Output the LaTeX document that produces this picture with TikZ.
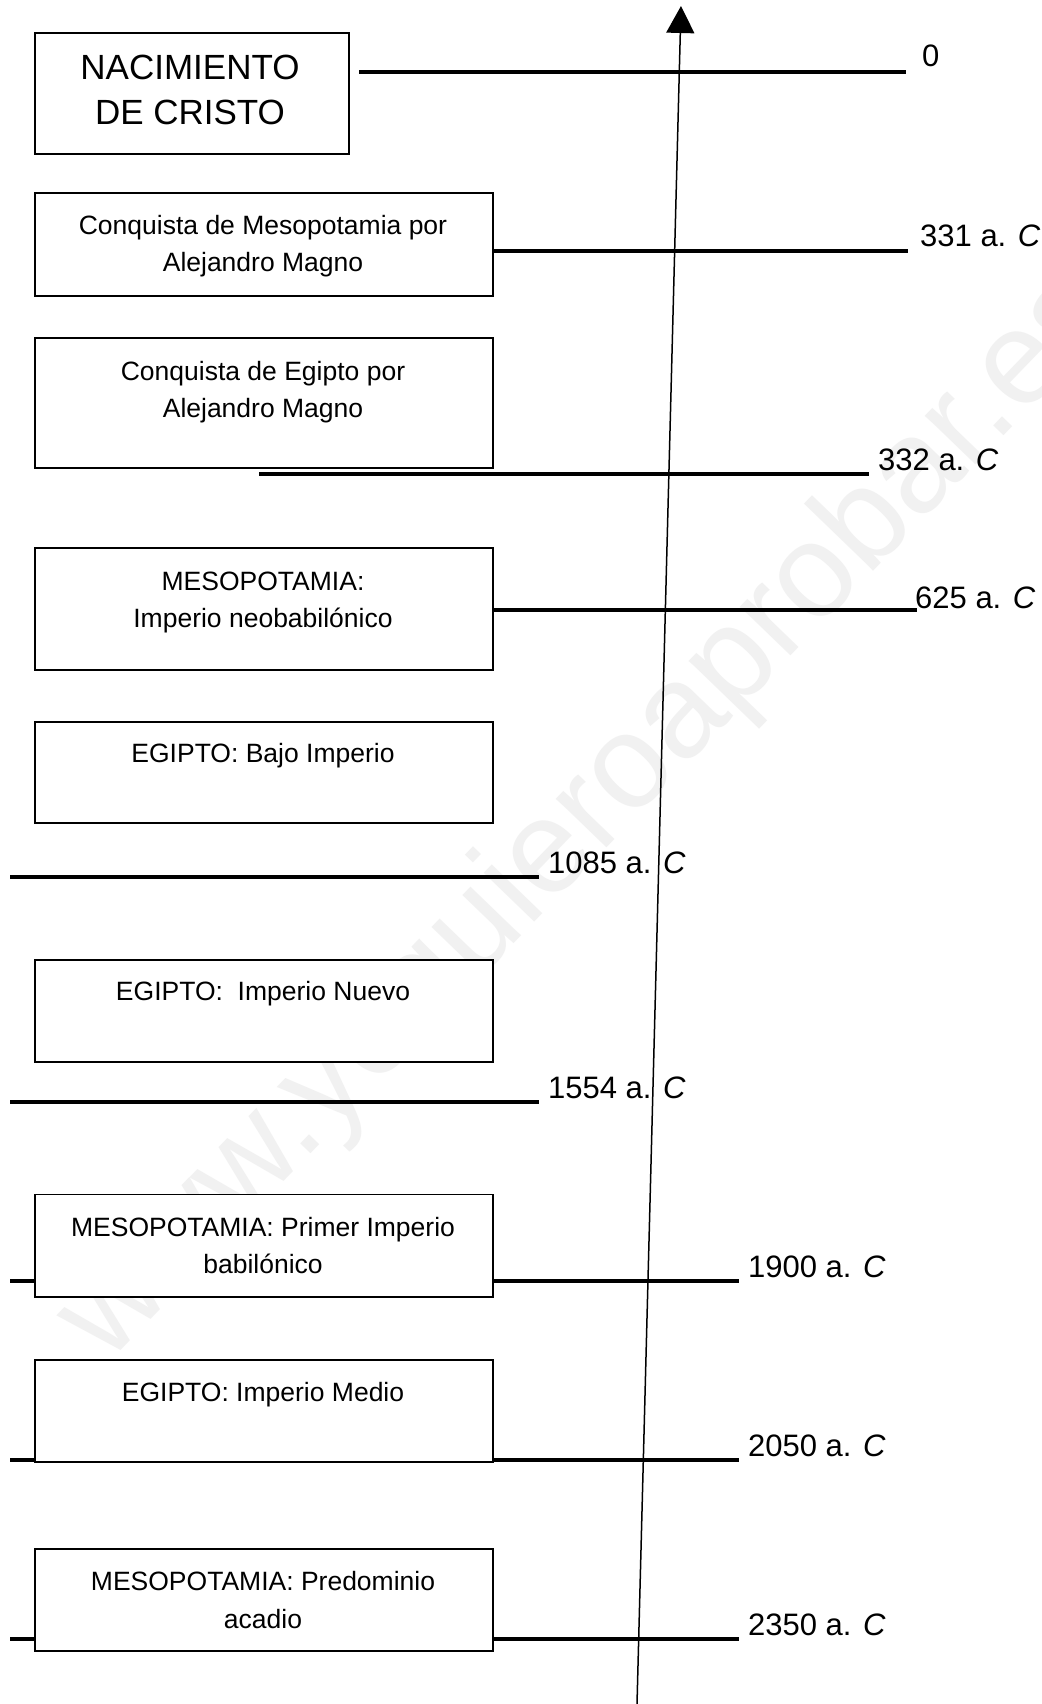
\documentclass[tikz,border=0pt]{standalone}
\usepackage{fontspec}
\setmainfont{Liberation Sans}
\usetikzlibrary{arrows.meta}
\definecolor{wmgray}{RGB}{241,241,241}
\begin{document}
\begin{tikzpicture}[x=1pt,y=-1pt,
  evbox/.style={draw=black, line width=1.3pt, fill=white, inner sep=0pt, outer sep=0pt, minimum width=458pt},
  boxtxt/.style={anchor=base, inner sep=0pt, font=\fontsize{26.5}{32}\selectfont},
  bigtxt/.style={anchor=base, inner sep=0pt, font=\fontsize{35}{40}\selectfont},
  datetxt/.style={anchor=base west, inner sep=0pt, font=\fontsize{31}{36}\selectfont},
  dateline/.style={line width=3.2pt},
  axisarrow/.style={line width=1.5pt, -{Triangle[width=28pt,length=27pt]}},
  wmark/.style={anchor=base, rotate=46, text=wmgray, inner sep=0pt, font=\fontsize{133}{140}\selectfont}]
\useasboundingbox (0,0) rectangle (1041,1704);
\fill[white] (0,0) rectangle (1041,1704);
% watermark
\node[wmark] (wm) at (613,841) {www.yoquieroaprobar.es};
% axis
\coordinate (axb) at (637,1704);
\coordinate (axt) at (681,6);
\draw[axisarrow] (axb) -- (axt);
% date lines
\coordinate (l0a) at (359,72);   \coordinate (l0b) at (906,72);
\coordinate (l1a) at (493,251);  \coordinate (l1b) at (908,251);
\coordinate (l2a) at (259,474);  \coordinate (l2b) at (869,474);
\coordinate (l3a) at (493,610);  \coordinate (l3b) at (917,610);
\coordinate (l4a) at (10,877);   \coordinate (l4b) at (539,877);
\coordinate (l5a) at (10,1102);  \coordinate (l5b) at (539,1102);
\coordinate (l6a) at (10,1281);  \coordinate (l6b) at (739,1281);
\coordinate (l7a) at (10,1460);  \coordinate (l7b) at (739,1460);
\coordinate (l8a) at (10,1639);  \coordinate (l8b) at (739,1639);
\foreach \i in {0,...,8} {\draw[dateline] (l\i a) -- (l\i b);}
% boxes
\node[evbox, minimum width=314pt, minimum height=121pt] (b1) at (192,93.5) {};
\node[evbox, minimum height=103pt] (b2) at (264,244.5) {};
\node[evbox, minimum height=130pt] (b3) at (264,403) {};
\node[evbox, minimum height=122pt] (b4) at (264,609) {};
\node[evbox, minimum height=101pt] (b5) at (264,772.5) {};
\node[evbox, minimum height=102pt] (b6) at (264,1011) {};
\node[evbox, minimum height=102.5pt] (b7) at (264,1245.75) {};
\node[evbox, minimum height=102pt] (b8) at (264,1411) {};
\node[evbox, minimum height=102pt] (b9) at (264,1600) {};
% box texts
\node[bigtxt] (t1a) at (190,80) {NACIMIENTO};
\node[bigtxt] (t1b) at (190,125) {DE CRISTO};
\node[boxtxt] (t2a) at (263,235) {Conquista de Mesopotamia por};
\node[boxtxt] (t2b) at (263,271) {Alejandro Magno};
\node[boxtxt] (t3a) at (263,380) {Conquista de Egipto por};
\node[boxtxt] (t3b) at (263,417) {Alejandro Magno};
\node[boxtxt] (t4a) at (263,590) {MESOPOTAMIA:};
\node[boxtxt] (t4b) at (263,627) {Imperio neobabilónico};
\node[boxtxt] (t5) at (263,762) {EGIPTO: Bajo Imperio};
\node[boxtxt] (t6) at (263,1000) {EGIPTO:\ \ Imperio Nuevo};
\node[boxtxt] (t7a) at (263,1236) {MESOPOTAMIA: Primer Imperio};
\node[boxtxt] (t7b) at (263,1273) {babilónico};
\node[boxtxt] (t8) at (263,1401) {EGIPTO: Imperio Medio};
\node[boxtxt] (t9a) at (263,1590) {MESOPOTAMIA: Predominio};
\node[boxtxt] (t9b) at (263,1628) {acadio};
% date labels
\node[datetxt] (d0) at (922,67) {0};
\node[datetxt] (d1) at (920,247) {331 a. \textit{C}};
\node[datetxt] (d2) at (878,470) {332 a. \textit{C}};
\node[datetxt] (d3) at (915,608) {625 a. \textit{C}};
\node[datetxt] (d4) at (548,873) {1085 a. \textit{C}};
\node[datetxt] (d5) at (548,1098) {1554 a. \textit{C}};
\node[datetxt] (d6) at (748,1277) {1900 a. \textit{C}};
\node[datetxt] (d7) at (748,1456) {2050 a. \textit{C}};
\node[datetxt] (d8) at (748,1635) {2350 a. \textit{C}};
\end{tikzpicture}
\end{document}
